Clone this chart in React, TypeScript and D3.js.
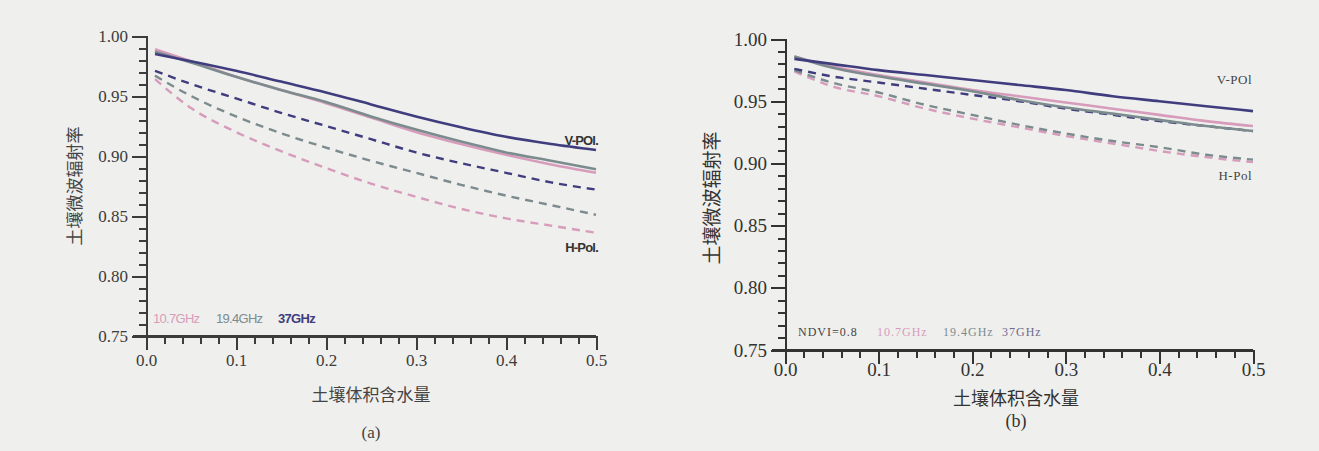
import React, { useEffect, useRef } from "react";
import * as d3 from "d3";

const W = 1319;
const H = 451;

// soil volumetric water content
const moisture = [0.01, 0.05, 0.1, 0.15, 0.2, 0.25, 0.3, 0.35, 0.4, 0.45, 0.5];

// panel (a) bare soil
const aV37 = [0.985, 0.979, 0.971, 0.962, 0.953, 0.943, 0.933, 0.924, 0.916, 0.91, 0.905];
const aV19 = [0.987, 0.978, 0.966, 0.955, 0.945, 0.933, 0.922, 0.912, 0.903, 0.896, 0.889];
const aV10 = [0.989, 0.979, 0.966, 0.955, 0.944, 0.932, 0.92, 0.91, 0.901, 0.893, 0.886];
const aH37 = [0.971, 0.96, 0.948, 0.936, 0.925, 0.914, 0.903, 0.894, 0.886, 0.878, 0.872];
const aH19 = [0.967, 0.95, 0.933, 0.919, 0.907, 0.896, 0.886, 0.876, 0.867, 0.859, 0.851];
const aH10 = [0.964, 0.94, 0.92, 0.904, 0.89, 0.877, 0.866, 0.856, 0.848, 0.842, 0.836];

// panel (b) NDVI = 0.8
const bV37 = [0.984, 0.98, 0.975, 0.971, 0.967, 0.963, 0.959, 0.954, 0.95, 0.946, 0.942];
const bV10 = [0.986, 0.978, 0.971, 0.965, 0.959, 0.954, 0.949, 0.944, 0.939, 0.934, 0.93];
const bV19 = [0.986, 0.977, 0.97, 0.964, 0.958, 0.951, 0.945, 0.94, 0.935, 0.93, 0.926];
const bH37 = [0.976, 0.97, 0.965, 0.96, 0.955, 0.95, 0.944, 0.939, 0.934, 0.93, 0.926];
const bH19 = [0.975, 0.965, 0.957, 0.947, 0.939, 0.931, 0.924, 0.918, 0.913, 0.907, 0.903];
const bH10 = [0.974, 0.962, 0.954, 0.944, 0.936, 0.929, 0.922, 0.916, 0.91, 0.905, 0.901];

const xTicks = [0, 0.1, 0.2, 0.3, 0.4, 0.5];
const yTicks = [0.75, 0.8, 0.85, 0.9, 0.95, 1.0];
const freqLabels = ["10.7GHz", "19.4GHz", "37GHz"];

const C10 = "#d79cbb";
const C19 = "#7c8b8e";
const C37 = "#403d7e";

type Series = { vals: number[]; color: string; dashed: boolean };

type PanelProps = {
  x0: number;
  x1: number;
  yTop: number;
  yBot: number;
  series: Series[];
  axisColor: string;
  tickFont: string;
  tickSize: number;
  xLabelDy: number;
};

function Panel({ x0, x1, yTop, yBot, series, axisColor, tickFont, tickSize, xLabelDy }: PanelProps) {
  const xs = d3.scaleLinear().domain([0, 0.5]).range([x0, x1]);
  const ys = d3.scaleLinear().domain([0.75, 1.0]).range([yBot, yTop]);
  const lineGen = d3
    .line<number>()
    .x((_, i) => xs(moisture[i]))
    .y((d) => ys(d))
    .curve(d3.curveMonotoneX);

  const axRef = useRef<SVGGElement | null>(null);

  useEffect(() => {
    const g = d3.select(axRef.current);
    g.selectAll("*").remove();
    const xMinor = d3.range(0, 26).map((i) => i * 0.02);
    const yMinor = d3.range(0, 26).map((i) => 0.75 + i * 0.01);

    // minor ticks
    const yMinorAxis = d3.axisLeft(ys).tickValues(yMinor).tickSize(7).tickFormat(() => "");
    const xMinorAxis = d3.axisBottom(xs).tickValues(xMinor).tickSize(8).tickFormat(() => "");
    g.append("g").attr("transform", `translate(${x0},0)`).call(yMinorAxis as any);
    g.append("g").attr("transform", `translate(0,${yBot})`).call(xMinorAxis as any);

    // major ticks with labels
    const yAxis = d3
      .axisLeft(ys)
      .tickValues(yTicks)
      .tickSize(14)
      .tickPadding(4)
      .tickFormat((d) => (d as number).toFixed(2));
    const xAxis = d3
      .axisBottom(xs)
      .tickValues(xTicks)
      .tickSize(14)
      .tickPadding(xLabelDy - 14 - tickSize * 0.75)
      .tickFormat((d) => (d as number).toFixed(1));
    g.append("g").attr("transform", `translate(${x0},0)`).call(yAxis as any);
    g.append("g").attr("transform", `translate(0,${yBot})`).call(xAxis as any);

    // x-axis baseline extends left past the y-axis
    g.append("path")
      .attr("d", `M${x0 - 13},${yBot}H${x1}`)
      .attr("fill", "none");

    g.selectAll("path, line")
      .attr("stroke", axisColor)
      .attr("stroke-width", 2)
      .attr("shape-rendering", "crispEdges");
    g.selectAll(".tick text")
      .attr("fill", axisColor)
      .attr("font-family", tickFont)
      .attr("font-size", tickSize);
    g.selectAll(".domain").attr("fill", "none");
  }, [x0, x1, yTop, yBot, axisColor, tickFont, tickSize, xLabelDy]);

  return (
    <g>
      {series.map((s, i) => (
        <path
          key={"s" + i}
          d={lineGen(s.vals) || ""}
          fill="none"
          stroke={s.color}
          strokeWidth={s.dashed ? 2.4 : 2.6}
          strokeDasharray={s.dashed ? "8,6" : undefined}
        />
      ))}
      <g ref={axRef} />
    </g>
  );
}

export default function App() {
  const serif = "'Liberation Serif', 'DejaVu Serif', serif";
  const cjk = "'Noto Sans CJK SC', sans-serif";
  const sans = "'Liberation Sans', Arial, sans-serif";

  const seriesA: Series[] = [
    { vals: aH10, color: C10, dashed: true },
    { vals: aH19, color: C19, dashed: true },
    { vals: aH37, color: C37, dashed: true },
    { vals: aV10, color: C10, dashed: false },
    { vals: aV19, color: C19, dashed: false },
    { vals: aV37, color: C37, dashed: false },
  ];
  const seriesB: Series[] = [
    { vals: bH10, color: C10, dashed: true },
    { vals: bH19, color: C19, dashed: true },
    { vals: bH37, color: C37, dashed: true },
    { vals: bV10, color: C10, dashed: false },
    { vals: bV19, color: C19, dashed: false },
    { vals: bV37, color: C37, dashed: false },
  ];

  const freqColors = [C10, C19, C37];
  const legendAX = [153, 216, 278];
  const legendBX = [877, 943, 1002];

  return (
    <svg width={W} height={H} style={{ position: "absolute", left: 0, top: 0, display: "block" }}>
      <rect x={0} y={0} width={W} height={H} fill="#efefed" />

      {/* Panel (a) */}
      <Panel
        x0={146}
        x1={596}
        yTop={36}
        yBot={336}
        series={seriesA}
        axisColor="#3c3c3c"
        tickFont={serif}
        tickSize={17}
        xLabelDy={31}
      />
      <text x={598} y={145} textAnchor="end" fontFamily={sans} fontWeight="bold" fontSize={13} letterSpacing={-0.8} fill="#333">
        V-POl.
      </text>
      <text x={598} y={252} textAnchor="end" fontFamily={sans} fontWeight="bold" fontSize={13} letterSpacing={-0.8} fill="#333">
        H-Pol.
      </text>
      {freqLabels.map((t, i) => (
        <text
          key={"la" + i}
          x={legendAX[i]}
          y={323}
          fontFamily={sans}
          fontWeight={i === 2 ? "bold" : "normal"}
          fontSize={13}
          letterSpacing={-0.7}
          fill={freqColors[i]}
        >
          {t}
        </text>
      ))}
      <text transform="translate(81,186) rotate(-90)" textAnchor="middle" fontFamily={cjk} fontSize={17} fill="#444">
        土壤微波辐射率
      </text>
      <text x={371} y={401} textAnchor="middle" fontFamily={cjk} fontSize={17} fill="#444">
        土壤体积含水量
      </text>
      <text x={371} y={438} textAnchor="middle" fontFamily={serif} fontSize={17} fill="#444">
        (a)
      </text>

      {/* Panel (b) */}
      <Panel
        x0={785}
        x1={1253}
        yTop={39}
        yBot={350}
        series={seriesB}
        axisColor="#333333"
        tickFont={serif}
        tickSize={19}
        xLabelDy={27}
      />
      <text x={1252} y={84} textAnchor="end" fontFamily={serif} fontSize={13} letterSpacing={0.5} fill="#444">
        V-POl
      </text>
      <text x={1252} y={180} textAnchor="end" fontFamily={serif} fontSize={13} letterSpacing={0.5} fill="#444">
        H-Pol
      </text>
      <text x={798} y={336} fontFamily={serif} fontSize={12} letterSpacing={1} fill="#444">
        NDVI=0.8
      </text>
      {freqLabels.map((t, i) => (
        <text
          key={"lb" + i}
          x={legendBX[i]}
          y={336}
          fontFamily={serif}
          fontSize={12}
          letterSpacing={1}
          fill={i === 2 ? "#6f6a8a" : freqColors[i]}
        >
          {t}
        </text>
      ))}
      <text transform="translate(719,198) rotate(-90)" textAnchor="middle" fontFamily={cjk} fontSize={19} fill="#333">
        土壤微波辐射率
      </text>
      <text x={1016} y={405} textAnchor="middle" fontFamily={cjk} fontSize={18} fill="#333">
        土壤体积含水量
      </text>
      <text x={1016} y={427} textAnchor="middle" fontFamily={serif} fontSize={18} fill="#333">
        (b)
      </text>
    </svg>
  );
}
